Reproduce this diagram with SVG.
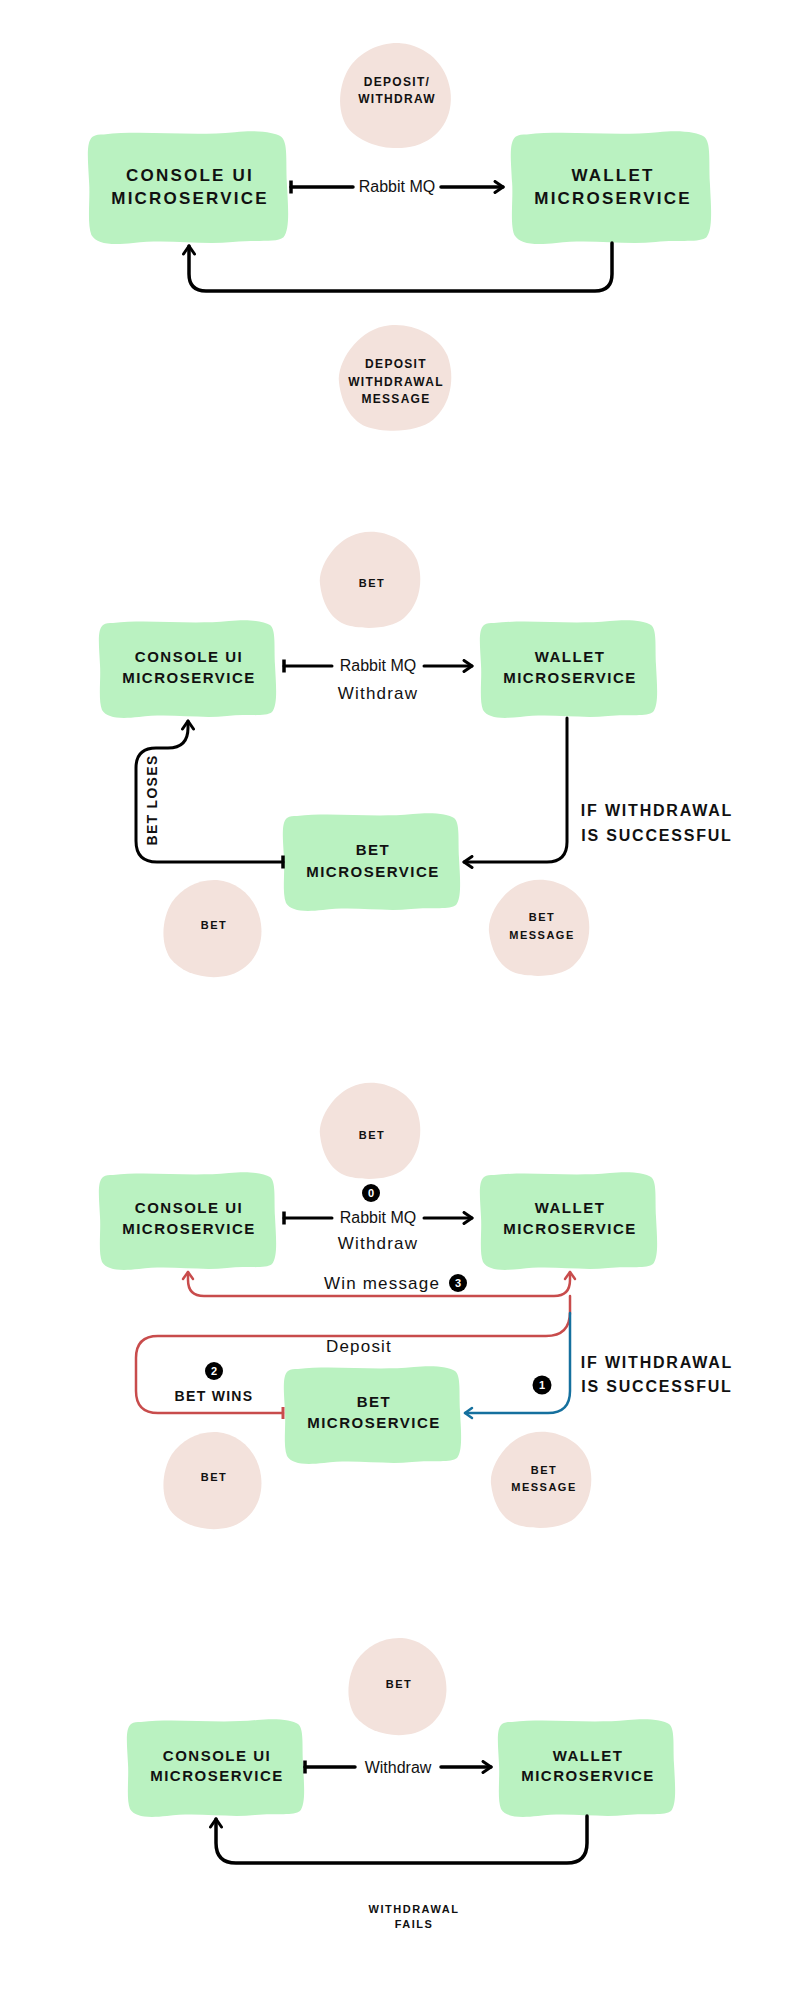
<svg xmlns="http://www.w3.org/2000/svg" xmlns:xlink="http://www.w3.org/1999/xlink" width="800" height="2000" viewBox="0 0 800 2000">
<style>
.box{fill:#baf2c1}
.blob{fill:#f3e2dc}
text{font-family:"Liberation Sans",Arial,sans-serif;fill:#111}
.bt{font-size:15px;font-weight:bold;letter-spacing:1.5px;text-anchor:middle}
.bt1{font-size:17px;font-weight:bold;letter-spacing:2.2px;text-anchor:middle}
.blt{font-size:11px;font-weight:bold;letter-spacing:1.5px;text-anchor:middle}
.blt1{font-size:12px;font-weight:bold;letter-spacing:1.3px;text-anchor:middle}
.lbl{font-size:16px;text-anchor:middle}
.lbl2{font-size:17px;letter-spacing:1.2px;text-anchor:middle}
.hd{font-size:16px;font-weight:bold;letter-spacing:1.8px;text-anchor:middle}
.hd2{font-size:14px;font-weight:bold;letter-spacing:1.3px;text-anchor:middle}
.bdg{fill:#000}
.bdt{font-size:11px;font-weight:bold;fill:#fff;text-anchor:middle}
.k{fill:none;stroke:#000;stroke-linecap:round;stroke-linejoin:round}
.r{fill:none;stroke:#c84c4c;stroke-width:2.5;stroke-linecap:round}
.b{fill:none;stroke:#15709e;stroke-width:2.5;stroke-linecap:round}
</style>
<defs>
<path id="box" d="M14,3 C50,-1 90,5 130,1 C150,-1 165,1 171,5 C177,10 175,25 176,45 C177,65 179,85 173,92 C167,97 150,94 128,96 C100,99 70,93 40,97 C20,99 8,98 3,90 C-1,80 2,60 1,45 C0,25 -2,10 4,5 C7,3 10,3 14,3 Z"/>
<path id="blobA" d="M-10,-47 C10,-52 38,-42 47,-20 C54,0 50,24 34,38 C20,50 -10,50 -26,44 C-40,38 -48,22 -50,4 C-52,-14 -34,-42 -10,-47 Z"/>
<path id="blobB" d="M5,-48 C28,-46 46,-28 49,-4 C52,20 40,40 18,47 C-4,53 -30,46 -42,30 C-52,14 -50,-10 -40,-26 C-30,-40 -14,-49 5,-48 Z"/>
<marker id="ak" viewBox="0 0 12 14" refX="10" refY="7" markerWidth="12" markerHeight="14" markerUnits="userSpaceOnUse" orient="auto-start-reverse"><path d="M2,1.5 L10,7 L2,12.5" fill="none" stroke="#000" stroke-width="3" stroke-linecap="round" stroke-linejoin="round"/></marker>
<marker id="ar" viewBox="0 0 12 14" refX="10" refY="7" markerWidth="12" markerHeight="14" markerUnits="userSpaceOnUse" orient="auto-start-reverse"><path d="M3,2 L10,7 L3,12" fill="none" stroke="#c84c4c" stroke-width="2.5" stroke-linecap="round" stroke-linejoin="round"/></marker>
<marker id="ab" viewBox="0 0 12 14" refX="10" refY="7" markerWidth="12" markerHeight="14" markerUnits="userSpaceOnUse" orient="auto-start-reverse"><path d="M3,2 L10,7 L3,12" fill="none" stroke="#15709e" stroke-width="2.5" stroke-linecap="round" stroke-linejoin="round"/></marker>
<marker id="bk" viewBox="0 0 4 16" refX="2" refY="8" markerWidth="4" markerHeight="16" markerUnits="userSpaceOnUse" orient="auto"><path d="M2,1.5 V14.5" stroke="#000" stroke-width="3.5"/></marker>
<marker id="br" viewBox="0 0 4 16" refX="2" refY="8" markerWidth="4" markerHeight="16" markerUnits="userSpaceOnUse" orient="auto"><path d="M2,2 V14" stroke="#c84c4c" stroke-width="3"/></marker>
</defs>
<rect width="800" height="2000" fill="#fff"/>

<!-- Section 1 -->
<g id="s1-blob-deposit-withdraw">
<use href="#blobB" class="blob" transform="translate(395,95) scale(1.13,1.08)"/>
<text class="blt1" x="397" y="86">DEPOSIT/</text>
<text class="blt1" x="397" y="103">WITHDRAW</text>
</g>
<g id="s1-console">
<use href="#box" class="box" transform="translate(88,131) scale(1.13,1.155)"/>
<text class="bt1" x="190" y="181">CONSOLE UI</text>
<text class="bt1" x="190" y="204">MICROSERVICE</text>
</g>
<g id="s1-wallet">
<use href="#box" class="box" transform="translate(511,131) scale(1.13,1.155)"/>
<text class="bt1" x="613" y="181">WALLET</text>
<text class="bt1" x="613" y="204">MICROSERVICE</text>
</g>
<g id="s1-blob-message">
<use href="#blobA" class="blob" transform="translate(395,378) scale(1.12,1.1)"/>
<text class="blt1" x="396" y="368">DEPOSIT</text>
<text class="blt1" x="396" y="386">WITHDRAWAL</text>
<text class="blt1" x="396" y="403">MESSAGE</text>
</g>

<!-- Section 2 -->
<g id="s2-blob-bet">
<use href="#blobA" class="blob" transform="translate(370,580)"/>
<text class="blt" x="372" y="587">BET</text>
</g>
<g id="s2-console">
<use href="#box" class="box" transform="translate(99,620)"/>
<text class="bt" x="189" y="662">CONSOLE UI</text>
<text class="bt" x="189" y="683">MICROSERVICE</text>
</g>
<g id="s2-wallet">
<use href="#box" class="box" transform="translate(480,620)"/>
<text class="bt" x="570" y="662">WALLET</text>
<text class="bt" x="570" y="683">MICROSERVICE</text>
</g>
<g id="s2-bet">
<use href="#box" class="box" transform="translate(283,813)"/>
<text class="bt" x="373" y="855">BET</text>
<text class="bt" x="373" y="877">MICROSERVICE</text>
</g>
<g id="s2-blob-bet-left">
<use href="#blobB" class="blob" transform="translate(212,928)"/>
<text class="blt" x="214" y="929">BET</text>
</g>
<g id="s2-blob-bet-message">
<use href="#blobA" class="blob" transform="translate(539,928)"/>
<text class="blt" x="542" y="921">BET</text>
<text class="blt" x="542" y="939">MESSAGE</text>
</g>

<!-- Section 3 -->
<g id="s3-blob-bet">
<use href="#blobA" class="blob" transform="translate(370,1131)"/>
<text class="blt" x="372" y="1139">BET</text>
</g>
<g id="s3-console">
<use href="#box" class="box" transform="translate(99,1172)"/>
<text class="bt" x="189" y="1213">CONSOLE UI</text>
<text class="bt" x="189" y="1234">MICROSERVICE</text>
</g>
<g id="s3-wallet">
<use href="#box" class="box" transform="translate(480,1172)"/>
<text class="bt" x="570" y="1213">WALLET</text>
<text class="bt" x="570" y="1234">MICROSERVICE</text>
</g>
<g id="s3-bet">
<use href="#box" class="box" transform="translate(284,1366)"/>
<text class="bt" x="374" y="1407">BET</text>
<text class="bt" x="374" y="1428">MICROSERVICE</text>
</g>
<g id="s3-blob-bet-left">
<use href="#blobB" class="blob" transform="translate(212,1480)"/>
<text class="blt" x="214" y="1481">BET</text>
</g>
<g id="s3-blob-bet-message">
<use href="#blobA" class="blob" transform="translate(541,1480)"/>
<text class="blt" x="544" y="1474">BET</text>
<text class="blt" x="544" y="1491">MESSAGE</text>
</g>

<!-- Section 4 -->
<g id="s4-blob-bet">
<use href="#blobB" class="blob" transform="translate(397,1686)"/>
<text class="blt" x="399" y="1688">BET</text>
</g>
<g id="s4-console">
<use href="#box" class="box" transform="translate(127,1719)"/>
<text class="bt" x="217" y="1761">CONSOLE UI</text>
<text class="bt" x="217" y="1781">MICROSERVICE</text>
</g>
<g id="s4-wallet">
<use href="#box" class="box" transform="translate(498,1719)"/>
<text class="bt" x="588" y="1761">WALLET</text>
<text class="bt" x="588" y="1781">MICROSERVICE</text>
</g>
<g id="s4-note">
<text class="blt" x="414" y="1913">WITHDRAWAL</text>
<text class="blt" x="414" y="1928">FAILS</text>
</g>

<!-- Connectors -->
<g id="connectors">
<path class="k" stroke-width="3.5" d="M291,187 H353" marker-start="url(#bk)"/>
<path class="k" stroke-width="3.5" d="M441,187 H503" marker-end="url(#ak)"/>
<path class="k" stroke-width="3.5" d="M612,243 V274 Q612,291 595,291 H206 Q189,291 189,274 V246" marker-end="url(#ak)"/>

<path class="k" stroke-width="3" d="M284,666 H332" marker-start="url(#bk)"/>
<path class="k" stroke-width="3" d="M424,666 H472" marker-end="url(#ak)"/>
<path class="k" stroke-width="3" d="M567,718 V842 Q567,862 547,862 H464" marker-end="url(#ak)"/>
<path class="k" stroke-width="3" d="M283,862 H157 Q136,862 136,841 V768 Q136,748 156,748 H168 Q188,748 188,728 V721" marker-start="url(#bk)" marker-end="url(#ak)"/>

<path class="k" stroke-width="3" d="M284,1218 H332" marker-start="url(#bk)"/>
<path class="k" stroke-width="3" d="M424,1218 H472" marker-end="url(#ak)"/>
<path class="r" d="M188,1272 V1280 Q188,1296 204,1296 H554 Q570,1296 570,1280 V1272" marker-start="url(#ar)" marker-end="url(#ar)"/>
<path class="r" d="M283,1413 H158 Q136,1413 136,1391 V1358 Q136,1336 158,1336 H546 Q570,1336 570,1312 V1296" marker-start="url(#br)"/>
<path class="b" d="M570,1313 V1391 Q570,1413 548,1413 H465" marker-end="url(#ab)"/>

<path class="k" stroke-width="3.5" d="M305,1767 H355" marker-start="url(#bk)"/>
<path class="k" stroke-width="3.5" d="M441,1767 H491" marker-end="url(#ak)"/>
<path class="k" stroke-width="3.5" d="M587,1816 V1843 Q587,1863 567,1863 H236 Q216,1863 216,1843 V1819" marker-end="url(#ak)"/>
</g>

<!-- Connector labels -->
<g id="labels">
<text class="lbl" x="397" y="192">Rabbit MQ</text>
<text class="lbl" x="378" y="671">Rabbit MQ</text>
<text class="lbl2" x="378" y="699">Withdraw</text>
<text class="hd" x="657" y="816">IF WITHDRAWAL</text>
<text class="hd" x="657" y="841">IS SUCCESSFUL</text>
<text class="hd2" x="0" y="0" transform="translate(157,800) rotate(-90)">BET LOSES</text>

<circle class="bdg" cx="371" cy="1193" r="9"/>
<text class="bdt" x="371" y="1197">0</text>
<text class="lbl" x="378" y="1223">Rabbit MQ</text>
<text class="lbl2" x="378" y="1249">Withdraw</text>
<text class="lbl2" x="382" y="1289">Win message</text>
<circle class="bdg" cx="458" cy="1283" r="9"/>
<text class="bdt" x="458" y="1287">3</text>
<text class="lbl2" x="359" y="1352">Deposit</text>
<circle class="bdg" cx="214" cy="1371" r="9"/>
<text class="bdt" x="214" y="1375">2</text>
<text class="hd2" x="214" y="1401">BET WINS</text>
<circle class="bdg" cx="542" cy="1385" r="9.5"/>
<text class="bdt" x="542" y="1389">1</text>
<text class="hd" x="657" y="1368">IF WITHDRAWAL</text>
<text class="hd" x="657" y="1392">IS SUCCESSFUL</text>

<text class="lbl" x="398" y="1773">Withdraw</text>
</g>
</svg>
